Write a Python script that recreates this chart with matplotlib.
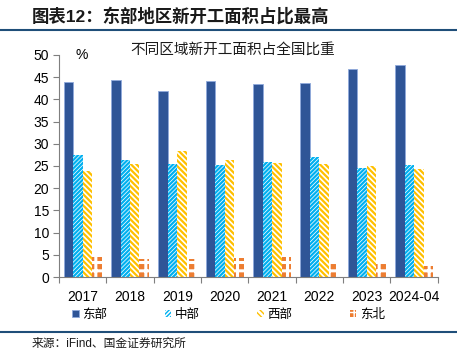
import matplotlib
matplotlib.use('Agg')
import matplotlib.pyplot as plt
import numpy as np

plt.rcParams['font.family'] = ['Liberation Sans', 'Noto Sans CJK SC']

years = ['2017', '2018', '2019', '2020', '2021', '2022', '2023', '2024-04']
east = [43.8, 44.3, 41.9, 44.1, 43.4, 43.7, 46.9, 47.8]
central = [27.5, 26.3, 25.5, 25.1, 25.9, 27.0, 24.6, 25.3]
west = [23.9, 25.4, 28.4, 26.4, 25.7, 25.5, 24.9, 24.4]
northeast = [4.4, 4.1, 4.1, 4.3, 4.6, 3.4, 3.2, 2.5]
series_names = ['东部', '中部', '西部', '东北']

fig = plt.figure(figsize=(4.57, 3.54), dpi=100)
ax = fig.add_axes([0.129, 0.2175, 0.829, 0.6275])

x = np.arange(len(years))
w = 0.2
ax.bar(x - 1.5 * w, east, w, color='#2F5597', edgecolor='#8FAADC', linewidth=0.6,
       label=series_names[0])
with plt.rc_context({'hatch.linewidth': 1.6}):
    ax.bar(x - 0.5 * w, central, w, facecolor='white', edgecolor='#00B0F0',
           hatch='////////', linewidth=0, label=series_names[1])
    ax.bar(x + 0.5 * w, west, w, facecolor='white', edgecolor='#FFC000',
           hatch='\\\\\\\\\\\\', linewidth=0, label=series_names[2])
with plt.rc_context({'hatch.linewidth': 2.2}):
    ax.bar(x + 1.5 * w, northeast, w, facecolor='#ED7D31', edgecolor='white',
           hatch='++', linewidth=0, label=series_names[3])

ax.set_xlim(-0.5, len(years) - 0.5)
ax.set_ylim(0, 50)
ax.set_yticks(np.arange(0, 51, 5))
ax.set_xticks(np.arange(-0.5, len(years), 1))
ax.set_xticklabels([])
ax.set_xticks(x, minor=True)
ax.set_xticklabels(years, minor=True)
ax.tick_params(axis='x', which='minor', length=0, pad=9, labelsize=10)
ax.tick_params(axis='x', which='major', length=4, direction='out', color='#7f7f7f')
ax.tick_params(axis='y', length=4, direction='out', color='#7f7f7f', labelsize=10, pad=3)
for s in ['top', 'right']:
    ax.spines[s].set_visible(False)
ax.spines['left'].set_color('#7f7f7f')
ax.spines['bottom'].set_color('#7f7f7f')

ax.text(0.06, 1.0, '%', transform=ax.transAxes, fontsize=10, va='center', ha='center')
fig.text(0.51, 0.86, '不同区域新开工面积占全国比重', fontsize=10.5, ha='center', va='center',
         color='#1a1a1a')

leg = fig.legend(loc='center', bbox_to_anchor=(0.5, 0.11), ncol=4, frameon=False,
                 fontsize=9, handlelength=0.5, handleheight=0.5, handletextpad=0.3,
                 columnspacing=4.6)

fig.text(0.07, 0.955, '图表12：东部地区新开工面积占比最高', fontsize=12.5, fontweight='bold',
         ha='left', va='center', color='#1a1a1a')
fig.add_artist(plt.Line2D([0, 1], [0.915, 0.915], transform=fig.transFigure,
                          color='#1F4E79', linewidth=1.5))
fig.add_artist(plt.Line2D([0, 1], [0.063, 0.063], transform=fig.transFigure,
                          color='#1F4E79', linewidth=1.5))
fig.text(0.07, 0.03, '来源：iFind、国金证券研究所', fontsize=8.5, ha='left', va='center',
         color='#1a1a1a')

fig.savefig('out.png', dpi=100)
